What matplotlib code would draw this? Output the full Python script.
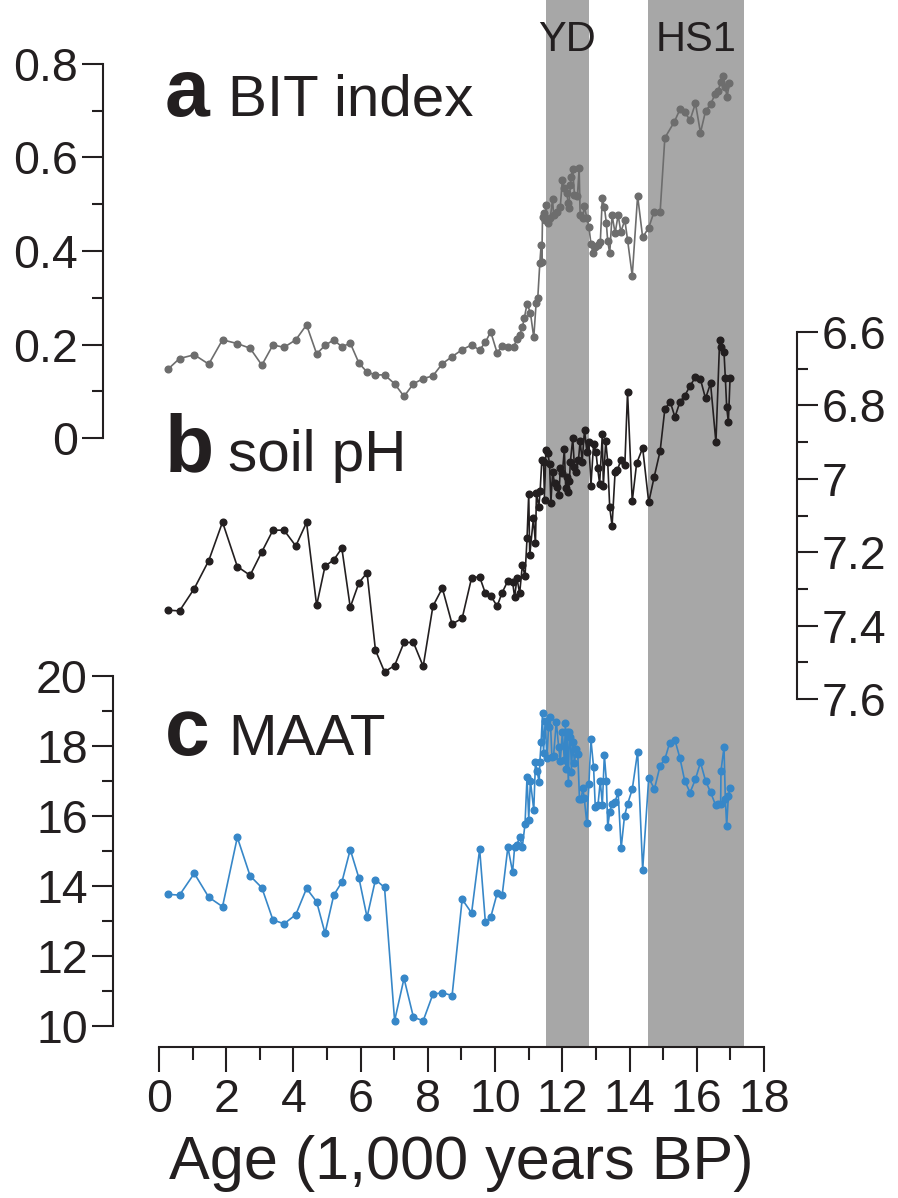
# BIT index, soil pH and MAAT records against age

import numpy as np
import matplotlib.pyplot as plt
from matplotlib.ticker import MultipleLocator, FuncFormatter

plt.rcParams['font.family'] = ['Liberation Sans', 'DejaVu Sans']

# data (age in ka BP)

bit_age = [0.28, 0.61, 1.05, 1.48, 1.89, 2.33, 2.71, 3.06, 3.39, 3.72, 4.07, 4.39, 4.69, 4.94,
           5.20, 5.44, 5.69, 5.95, 6.19, 6.44, 6.71, 7.01, 7.29, 7.57, 7.86, 8.15, 8.43, 8.72,
           9.02, 9.30, 9.54, 9.71, 9.87, 10.06, 10.21, 10.38, 10.55, 10.65, 10.73, 10.81, 10.87,
           10.95, 11.05, 11.15, 11.22, 11.27, 11.33, 11.37, 11.39, 11.41, 11.44, 11.49, 11.51,
           11.56, 11.64, 11.71, 11.74, 11.84, 11.94, 12.00, 12.06, 12.14, 12.17, 12.19, 12.24,
           12.26, 12.31, 12.36, 12.45, 12.50, 12.53, 12.61, 12.65, 12.73, 12.79, 12.85, 12.91,
           12.98, 13.06, 13.13, 13.19, 13.25, 13.31, 13.35, 13.41, 13.48, 13.57, 13.66, 13.74,
           13.86, 13.94, 14.08, 14.24, 14.39, 14.57, 14.73, 14.91, 15.05, 15.33, 15.50, 15.64,
           15.80, 15.96, 16.11, 16.26, 16.41, 16.55, 16.64, 16.71, 16.78, 16.85, 16.90, 16.97]
bit = [0.148, 0.170, 0.178, 0.158, 0.210, 0.202, 0.192, 0.156, 0.199, 0.194, 0.210, 0.242, 0.180, 0.198,
       0.210, 0.195, 0.203, 0.160, 0.141, 0.135, 0.135, 0.116, 0.089, 0.116, 0.127, 0.133, 0.159, 0.174,
       0.189, 0.199, 0.188, 0.205, 0.227, 0.182, 0.197, 0.194, 0.194, 0.212, 0.220, 0.237, 0.257,
       0.287, 0.268, 0.215, 0.288, 0.300, 0.374, 0.413, 0.377, 0.473, 0.481, 0.466, 0.498,
       0.459, 0.470, 0.511, 0.477, 0.484, 0.495, 0.552, 0.534, 0.523, 0.502, 0.491, 0.541,
       0.559, 0.575, 0.520, 0.518, 0.578, 0.477, 0.470, 0.496, 0.471, 0.452, 0.416, 0.395,
       0.409, 0.413, 0.420, 0.513, 0.495, 0.459, 0.421, 0.395, 0.477, 0.438, 0.477, 0.441,
       0.466, 0.424, 0.347, 0.518, 0.429, 0.450, 0.484, 0.484, 0.642, 0.676, 0.703, 0.697,
       0.680, 0.716, 0.653, 0.699, 0.714, 0.736, 0.743, 0.762, 0.775, 0.751, 0.729, 0.759]

ph_age = [0.28, 0.61, 1.05, 1.48, 1.89, 2.33, 2.71, 3.06, 3.39, 3.72, 4.07, 4.39, 4.69, 4.94,
          5.20, 5.44, 5.69, 5.95, 6.19, 6.44, 6.71, 7.01, 7.29, 7.57, 7.86, 8.15, 8.43, 8.72,
          9.02, 9.30, 9.54, 9.71, 9.87, 10.06, 10.21, 10.38, 10.52, 10.58, 10.65, 10.73, 10.81,
          10.89, 10.95, 11.00, 11.03, 11.14, 11.20, 11.23, 11.30, 11.34, 11.39, 11.44, 11.47,
          11.51, 11.57, 11.62, 11.66, 11.71, 11.77, 11.84, 11.90, 11.94, 12.00, 12.06, 12.10,
          12.14, 12.18, 12.21, 12.24, 12.31, 12.36, 12.41, 12.48, 12.53, 12.59, 12.66, 12.73,
          12.79, 12.85, 12.93, 13.00, 13.05, 13.11, 13.19, 13.22, 13.29, 13.35, 13.41, 13.48,
          13.57, 13.64, 13.74, 13.86, 13.94, 14.08, 14.21, 14.39, 14.57, 14.73, 14.91, 15.05,
          15.21, 15.35, 15.50, 15.64, 15.80, 15.96, 16.11, 16.26, 16.41, 16.57, 16.68, 16.71,
          16.81, 16.85, 16.89, 16.94, 16.99]
ph = [7.358, 7.360, 7.299, 7.223, 7.118, 7.239, 7.263, 7.199, 7.140, 7.140, 7.183, 7.119, 7.345, 7.238,
      7.221, 7.189, 7.350, 7.283, 7.256, 7.467, 7.526, 7.509, 7.446, 7.446, 7.511, 7.347, 7.298, 7.396,
      7.380, 7.270, 7.267, 7.312, 7.319, 7.347, 7.310, 7.278, 7.280, 7.323, 7.271, 7.312, 7.236,
      7.264, 7.162, 7.041, 7.208, 7.107, 7.176, 7.040, 7.076, 7.032, 6.949, 6.953, 7.058,
      6.922, 6.931, 6.960, 7.065, 6.982, 7.012, 7.021, 7.044, 6.971, 6.985, 6.920, 7.026,
      6.994, 7.035, 7.005, 6.953, 6.890, 6.967, 6.981, 6.949, 6.896, 6.953, 6.867, 6.926,
      6.899, 7.019, 6.905, 6.926, 6.971, 7.014, 6.878, 7.020, 6.896, 6.953, 7.078, 7.128,
      6.981, 6.976, 6.949, 6.962, 6.764, 7.061, 6.958, 6.916, 7.064, 6.996, 6.924, 6.810,
      6.790, 6.832, 6.790, 6.774, 6.747, 6.723, 6.729, 6.781, 6.740, 6.901, 6.622, 6.640,
      6.655, 6.726, 6.805, 6.846, 6.726]

maat_age = [0.28, 0.61, 1.05, 1.48, 1.89, 2.33, 2.71, 3.06, 3.39, 3.72, 4.07, 4.39, 4.69, 4.94,
            5.20, 5.44, 5.69, 5.95, 6.19, 6.44, 6.71, 7.01, 7.29, 7.57, 7.86, 8.15, 8.43, 8.72,
            9.02, 9.30, 9.54, 9.71, 9.87, 10.06, 10.21, 10.38, 10.52, 10.58, 10.65, 10.73, 10.81,
            10.89, 10.95, 11.00, 11.05, 11.15, 11.20, 11.25, 11.31, 11.33, 11.37, 11.41, 11.44,
            11.49, 11.54, 11.59, 11.64, 11.69, 11.74, 11.82, 11.89, 11.94, 12.00, 12.06, 12.09,
            12.12, 12.14, 12.18, 12.21, 12.24, 12.27, 12.31, 12.36, 12.41, 12.46, 12.51, 12.56,
            12.61, 12.65, 12.73, 12.79, 12.85, 12.93, 12.98, 13.06, 13.13, 13.19, 13.25, 13.31,
            13.35, 13.41, 13.48, 13.57, 13.66, 13.75, 13.85, 13.94, 14.08, 14.24, 14.39, 14.57,
            14.74, 14.91, 15.05, 15.19, 15.35, 15.50, 15.64, 15.80, 15.96, 16.11, 16.26, 16.41,
            16.56, 16.64, 16.71, 16.72, 16.81, 16.85, 16.89, 16.94, 16.99]
maat = [13.76, 13.74, 14.36, 13.68, 13.41, 15.39, 14.29, 13.95, 13.03, 12.92, 13.18, 13.93, 13.55, 12.65,
        13.74, 14.11, 15.04, 14.22, 13.11, 14.18, 13.96, 10.15, 11.36, 10.25, 10.15, 10.91, 10.95, 10.87,
        13.62, 13.23, 15.05, 12.97, 13.11, 13.79, 13.74, 15.11, 14.40, 15.11, 15.17, 15.41, 15.12,
        15.77, 17.12, 15.90, 17.01, 16.17, 17.53, 17.29, 16.96, 17.53, 18.11, 18.95, 17.79,
        18.72, 17.65, 18.53, 18.82, 17.69, 17.72, 18.69, 17.98, 17.57, 18.39, 17.60, 18.67,
        17.33, 18.39, 16.93, 18.39, 18.27, 17.27, 18.12, 17.51, 17.91, 17.77, 16.49, 16.49,
        16.79, 16.52, 15.79, 16.91, 18.19, 17.39, 16.27, 16.31, 17.01, 16.31, 17.74, 17.01,
        15.68, 16.12, 16.34, 16.41, 16.68, 15.08, 16.00, 16.34, 16.76, 17.84, 14.46, 17.09,
        16.77, 17.44, 17.62, 18.08, 18.17, 17.65, 17.01, 16.67, 17.05, 17.53, 17.01, 16.68,
        16.31, 16.33, 16.34, 17.29, 17.96, 16.48, 15.72, 16.58, 16.79]

# climate events (start, end, label)
events = [(11.5, 12.8, 'YD'), (14.55, 17.4, 'HS1')]

# figure setup, positions worked out in pixels

W, H = 898, 1198
fig = plt.figure(figsize=(W / 100, H / 100), dpi=100)

ink = '#231f20'
x_left, x_right = 159, 764


def box(top, bottom):
    return [x_left / W, 1 - bottom / H, (x_right - x_left) / W, (bottom - top) / H]


fmt = FuncFormatter(lambda v, p: f"{v:g}")

# base axes: shaded events and the age axis
base = fig.add_axes(box(0, 1047))
base.set_xlim(0, 18)
base.set_ylim(0, 1)
for s in ['top', 'left', 'right']:
    base.spines[s].set_visible(False)
base.spines['bottom'].set_linewidth(1.5)
base.spines['bottom'].set_color(ink)
base.set_yticks([])
for a0, a1, name in events:
    base.axvspan(a0, a1, color='#a7a7a7', lw=0, zorder=0)
    base.text((a0 + a1) / 2, 1 - 40 / 1047, name, ha='center', va='center',
              fontsize=30, color=ink)
base.xaxis.set_major_locator(MultipleLocator(2))
base.xaxis.set_minor_locator(MultipleLocator(1))
base.tick_params(axis='x', which='major', length=18, width=1.5, color=ink,
                 labelsize=33.5, labelcolor=ink, pad=4)
base.tick_params(axis='x', which='minor', length=9, width=1.5, color=ink)
base.set_xlabel('Age (1,000 years BP)', fontsize=44, color=ink, labelpad=10)


def panel(top, bottom, lims, side, offset_px, major, minor):
    ax = fig.add_axes(box(top, bottom), sharex=base)
    ax.patch.set_alpha(0)
    ax.set_ylim(*lims)
    for s in ['top', 'bottom', 'left', 'right']:
        ax.spines[s].set_visible(s == side)
    ax.spines[side].set_position(('outward', offset_px * 0.72))
    ax.spines[side].set_linewidth(1.5)
    ax.spines[side].set_color(ink)
    ax.yaxis.set_ticks_position(side)
    ax.yaxis.set_major_locator(MultipleLocator(major))
    ax.yaxis.set_minor_locator(MultipleLocator(minor))
    ax.yaxis.set_major_formatter(fmt)
    ax.tick_params(axis='y', which='major', length=15, width=1.5, color=ink,
                   labelsize=33.5, labelcolor=ink, pad=3)
    ax.tick_params(axis='y', which='minor', length=8, width=1.5, color=ink)
    ax.tick_params(axis='x', which='both', bottom=False, labelbottom=False)
    return ax


ax_a = panel(64, 438, (0, 0.8), 'left', 56, 0.2, 0.1)
ax_b = panel(332, 699, (7.6, 6.6), 'right', 33, 0.2, 0.1)
ax_c = panel(676, 1026, (10, 20), 'left', 46, 2, 1)

ax_a.plot(bit_age, bit, '-o', color='#6d6d6d', lw=1.2, ms=4.8, clip_on=False)
ax_b.plot(ph_age, ph, '-o', color=ink, lw=1.2, ms=4.8, clip_on=False)
ax_c.plot(maat_age, maat, '-o', color='#3787c8', lw=1.2, ms=4.8, clip_on=False)

# panel titles
labels = [('a', 'BIT index', 116), ('b', 'soil pH', 471), ('c', 'MAAT', 755)]
for letter, name, base_y in labels:
    fig.text(165 / W, 1 - base_y / H, letter, fontsize=58, fontweight='bold',
             color=ink, va='baseline', ha='left')
    fig.text(228 / W, 1 - base_y / H, name, fontsize=42, color=ink,
             va='baseline', ha='left')

fig.savefig('out.png', dpi=100)
